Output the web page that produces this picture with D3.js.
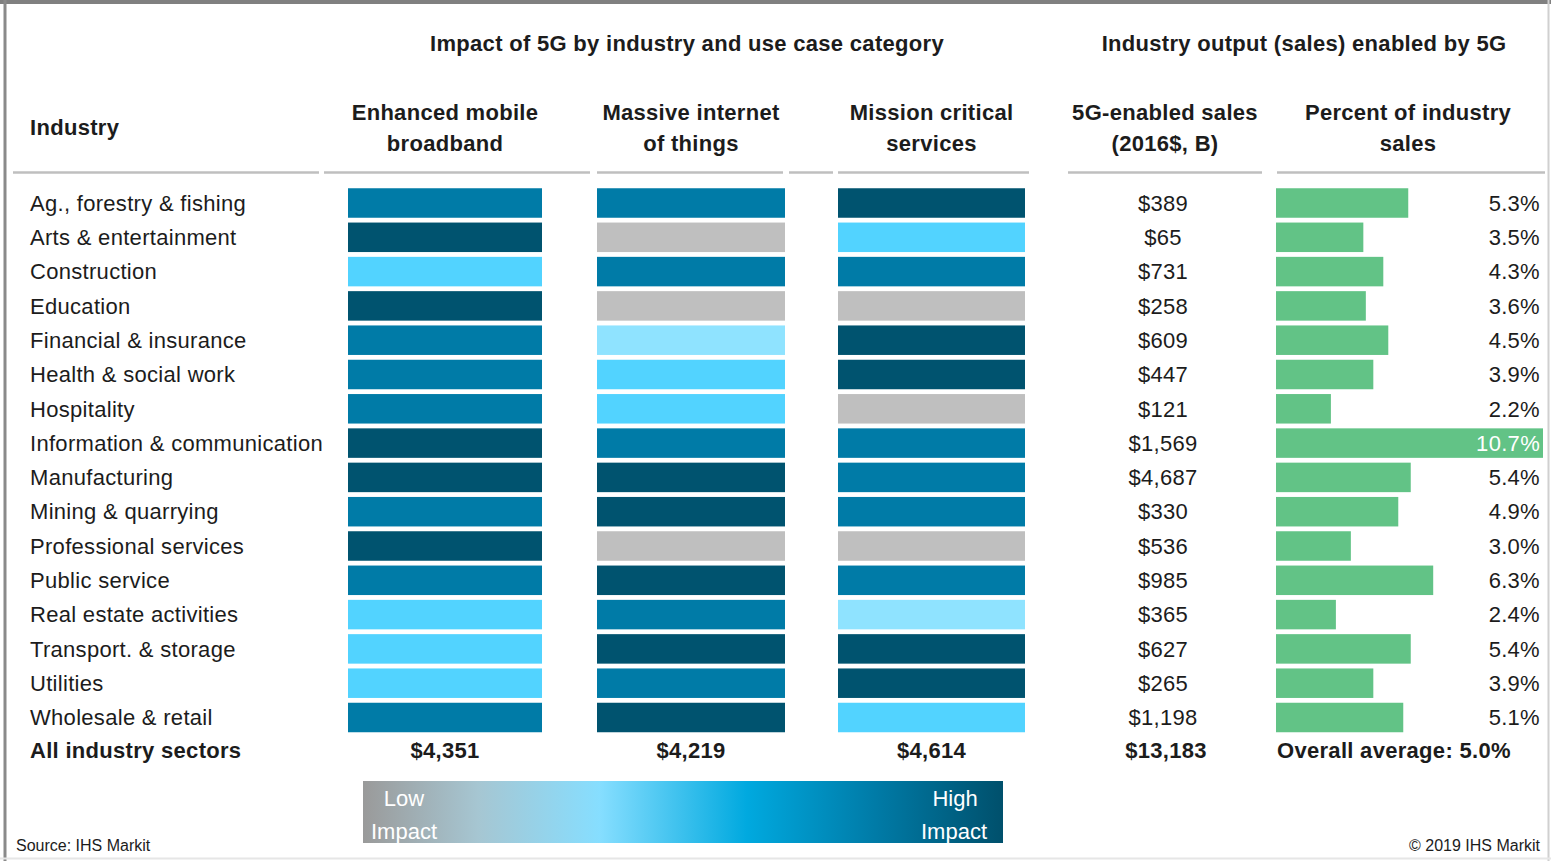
<!DOCTYPE html>
<html><head><meta charset="utf-8">
<script src="https://cdn.jsdelivr.net/npm/d3@7/dist/d3.min.js"></script>
<style>
body{margin:0;background:#fff}
svg{display:block}
text{font-family:"Liberation Sans",Arial,sans-serif;fill:#1c1c1c;letter-spacing:0.3px}
</style>
</head><body>
<svg id="c" width="1551" height="861"></svg>
<script>
// ---------- data ----------
const industries = [
  "Ag., forestry & fishing","Arts & entertainment","Construction","Education",
  "Financial & insurance","Health & social work","Hospitality","Information & communication",
  "Manufacturing","Mining & quarrying","Professional services","Public service",
  "Real estate activities","Transport. & storage","Utilities","Wholesale & retail"
];
// impact level: 0 = low (grey) ... 4 = high (dark blue)
const embImpact  = [3,4,2,4,3,3,3,4,4,3,4,3,2,2,2,3];
const miotImpact = [3,0,3,0,1,2,2,3,4,4,0,4,3,4,3,4];
const mcsImpact  = [4,2,3,0,4,4,0,3,3,3,0,3,1,4,4,2];
const salesB     = [389,65,731,258,609,447,121,1569,4687,330,536,985,365,627,265,1198];
const pctSales   = [5.3,3.5,4.3,3.6,4.5,3.9,2.2,10.7,5.4,4.9,3.0,6.3,2.4,5.4,3.9,5.1];
const useCaseHeaders = [["Enhanced mobile","broadband"],["Massive internet","of things"],["Mission critical","services"]];
const useCaseTotals = [4351,4219,4614];
const salesTotal = 13183;
const overallAvg = 5.0;
const impactLevels = [0,1,2,3,4];
const impactColors = ["#BFBFBF","#8FE3FF","#52D3FF","#007BA7","#00536F"];

// ---------- setup ----------
const svg = d3.select("#c");
const W = 1551, H = 861;
const color = d3.scaleOrdinal().domain(impactLevels).range(impactColors);
const y = d3.scaleBand().domain(industries).range([185.85, 734.65]).paddingInner(0.14).paddingOuter(0.07);
const colKeys = ["emb","miot","mcs"];
const colX = d3.scaleOrdinal().domain(colKeys).range([348,597,838]);
const colW = d3.scaleOrdinal().domain(colKeys).range([194,188,187]);
const colCenter = k => colX(k) + colW(k)/2;
const pctX = d3.scaleLinear().domain([0,10.7]).range([1276,1543]);
const fmtSales = d3.format("$,.0f");
const fmtPct = v => d3.format(".1f")(v) + "%";
const FS = 22;

// frame
svg.append("rect").attr("x",0).attr("y",0).attr("width",W).attr("height",4).attr("fill","#808080");
svg.append("line").attr("x1",5).attr("x2",5).attr("y1",0).attr("y2",H).attr("stroke","#8a8a8a").attr("stroke-width",3);
svg.append("line").attr("x1",1548.5).attr("x2",1548.5).attr("y1",0).attr("y2",H).attr("stroke","#d0d0d0").attr("stroke-width",2);
svg.append("line").attr("x1",0).attr("x2",W).attr("y1",858.5).attr("y2",858.5).attr("stroke","#e6e6e6").attr("stroke-width",2);

// titles
svg.append("text").attr("x",687).attr("y",43).attr("dy","0.35em").attr("text-anchor","middle")
  .attr("font-size",FS).attr("font-weight","bold").text("Impact of 5G by industry and use case category");
svg.append("text").attr("x",1304).attr("y",43).attr("dy","0.35em").attr("text-anchor","middle")
  .attr("font-size",FS).attr("font-weight","bold").text("Industry output (sales) enabled by 5G");

// column headers
svg.append("text").attr("x",30).attr("y",127).attr("dy","0.35em").attr("font-size",FS).attr("font-weight","bold").text("Industry");
const headerCenters = colKeys.map(colCenter).concat([1165,1408]);
const allHeaders = useCaseHeaders.concat([["5G-enabled sales","(2016$, B)"],["Percent of industry","sales"]]);
allHeaders.forEach((lines,i)=>{
  lines.forEach((ln,j)=>{
    svg.append("text").attr("x",headerCenters[i]).attr("y",112+j*31).attr("dy","0.35em")
      .attr("text-anchor","middle").attr("font-size",FS).attr("font-weight","bold").text(ln);
  });
});
// header rules
const rules = [[13,319],[324,590],[597,783],[789,833],[838,1029],[1068,1262],[1277,1545]];
svg.selectAll("line.rule").data(rules).enter().append("line").attr("class","rule")
  .attr("x1",d=>d[0]).attr("x2",d=>d[1]).attr("y1",172.5).attr("y2",172.5)
  .attr("stroke","#BFBFBF").attr("stroke-width",2.5);

// rows
const rows = industries.map((name,i)=>({name, emb:embImpact[i], miot:miotImpact[i], mcs:mcsImpact[i], sales:salesB[i], pct:pctSales[i]}));
const mid = d => y(d.name) + y.bandwidth()/2;

svg.selectAll("text.lab").data(rows).enter().append("text").attr("class","lab")
  .attr("x",30).attr("y",mid).attr("dy","0.35em").attr("font-size",FS).text(d=>d.name);

colKeys.forEach(k=>{
  svg.selectAll("rect.c-"+k).data(rows).enter().append("rect").attr("class","c-"+k)
    .attr("x",colX(k)).attr("y",d=>y(d.name)).attr("width",colW(k)).attr("height",y.bandwidth())
    .attr("fill",d=>color(d[k]));
});

svg.selectAll("text.sales").data(rows).enter().append("text").attr("class","sales")
  .attr("x",1163).attr("y",mid).attr("dy","0.35em").attr("text-anchor","middle").attr("font-size",FS)
  .text(d=>fmtSales(d.sales));

svg.selectAll("rect.pct").data(rows).enter().append("rect").attr("class","pct")
  .attr("x",pctX(0)).attr("y",d=>y(d.name)).attr("width",d=>pctX(d.pct)-pctX(0)).attr("height",y.bandwidth())
  .attr("fill","#62C386");

svg.selectAll("text.pct").data(rows).enter().append("text").attr("class","pct")
  .attr("x",1540).attr("y",mid).attr("dy","0.35em").attr("text-anchor","end").attr("font-size",FS)
  .style("fill",d=>pctX(d.pct) > 1490 ? "#ffffff" : "#1c1c1c")
  .text(d=>fmtPct(d.pct));

// totals row
const ty = 750;
svg.append("text").attr("x",30).attr("y",ty).attr("dy","0.35em").attr("font-size",FS).attr("font-weight","bold").text("All industry sectors");
colKeys.forEach((k,i)=>{
  svg.append("text").attr("x",colCenter(k)).attr("y",ty).attr("dy","0.35em").attr("text-anchor","middle")
    .attr("font-size",FS).attr("font-weight","bold").text(fmtSales(useCaseTotals[i]));
});
svg.append("text").attr("x",1166).attr("y",ty).attr("dy","0.35em").attr("text-anchor","middle")
  .attr("font-size",FS).attr("font-weight","bold").text(fmtSales(salesTotal));
svg.append("text").attr("x",1277).attr("y",ty).attr("dy","0.35em")
  .attr("font-size",FS).attr("font-weight","bold").text("Overall average: " + d3.format(".1f")(overallAvg) + "%");

// legend
const defs = svg.append("defs");
const grad = defs.append("linearGradient").attr("id","lg").attr("x1","0%").attr("x2","100%");
[[0,"#9A9A9A"],[0.18,"#A6C6D2"],[0.37,"#86DEFF"],[0.6,"#00A9DF"],[0.8,"#007BA7"],[1,"#00506C"]]
  .forEach(s=>grad.append("stop").attr("offset",s[0]).attr("stop-color",s[1]));
svg.append("rect").attr("x",363).attr("y",781).attr("width",640).attr("height",62).attr("fill","url(#lg)");
[["Low",404,798],["Impact",404,831],["High",955,798],["Impact",954,831]].forEach(t=>{
  svg.append("text").attr("x",t[1]).attr("y",t[2]).attr("dy","0.35em").attr("text-anchor","middle")
    .attr("font-size",22).style("letter-spacing","0px").style("fill","#ffffff").text(t[0]);
});

// footer
svg.append("text").attr("x",16).attr("y",845).attr("dy","0.35em").attr("font-size",16).style("letter-spacing","0px").text("Source: IHS Markit");
svg.append("text").attr("x",1540).attr("y",845).attr("dy","0.35em").attr("text-anchor","end").attr("font-size",16).style("letter-spacing","0px").text("© 2019 IHS Markit");
</script>
</body></html>
